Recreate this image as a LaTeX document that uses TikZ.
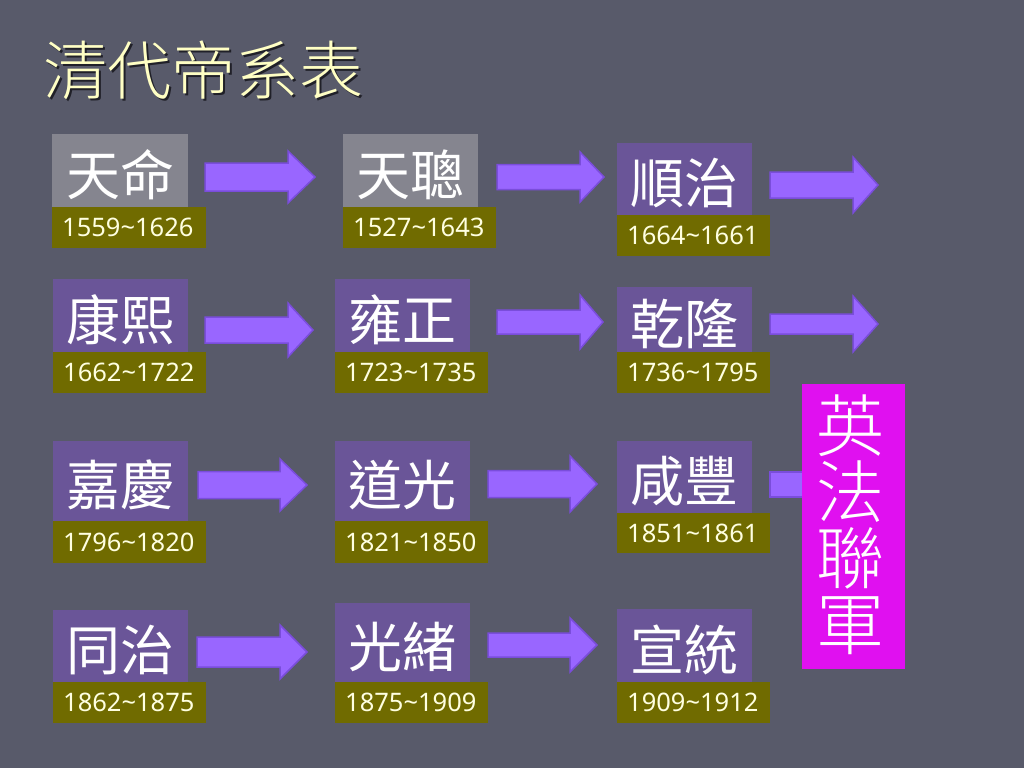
\documentclass[tikz,border=0pt]{standalone}
\usepackage{fontspec}
\usetikzlibrary{calc}
\newfontfamily\cjk{Noto Sans CJK TC}
\IfFontExistsTF{Noto Sans CJK TC Light}{\newfontfamily\cjkl{Noto Sans CJK TC Light}}{\newfontfamily\cjkl{Noto Sans CJK TC}}
\newfontfamily\numf{Noto Sans}
\definecolor{bgcol}{HTML}{585A6A}
\definecolor{namegrey}{HTML}{85858F}
\definecolor{namepurple}{HTML}{6A5598}
\definecolor{olivecol}{HTML}{706B00}
\definecolor{datecol}{HTML}{FFFFE0}
\definecolor{arrowfill}{HTML}{9966FF}
\definecolor{arrowedge}{HTML}{7A4DDB}
\definecolor{warbox}{HTML}{E010F0}
\definecolor{titlecol}{HTML}{FFFFC4}
\definecolor{titleshadow}{HTML}{202028}
\tikzset{
  namebox/.style={fill=namepurple, inner sep=0pt, anchor=north west},
  greybox/.style={fill=namegrey, inner sep=0pt, anchor=north west},
  datebox/.style={fill=olivecol, inner sep=0pt, anchor=north west},
  nametext/.style={font=\cjk\fontsize{54}{54}\selectfont, text=white, inner sep=0pt},
  datetext/.style={font=\numf\fontsize{25.5}{26}\selectfont, text=datecol, inner sep=0pt, anchor=west},
  blockarrow/.style={fill=arrowfill, draw=arrowedge, line width=1.5pt, line join=miter},
  titletext/.style={font=\cjkl\fontsize{64}{64}\selectfont, inner sep=0pt, anchor=west},
  warnode/.style={fill=warbox, inner sep=0pt, anchor=north west},
  wartext/.style={font=\cjkl\fontsize{68}{66}\selectfont, text=white, inner sep=0pt, align=center},
}
% #1 id, #2 box style, #3 x-left, #4 y-top, #5 y-split, #6 y-bottom, #7 name right x, #8 name, #9 date
\newcommand\emperor[9]{%
  \pgfmathsetmacro\bw{#7-#3}\pgfmathsetmacro\bh{#5-#4}%
  \pgfmathsetmacro\dw{#7+17.5-#3}\pgfmathsetmacro\dh{#6-#5}%
  \node[#2, minimum width=\bw pt, minimum height=\bh pt] (#1-box) at (#3,#4) {};
  \node[nametext] (#1-name) at ($(#1-box.center)+(0,4)$) {#8};
  \node[datebox, minimum width=\dw pt, minimum height=\dh pt] (#1-date) at (#3,#5) {};
  \node[datetext] (#1-year) at ($(#1-date.west)+(10,0)$) {#9};
}
% #1 x0, #2 x head base, #3 x tip, #4 y centre, #5 half body, #6 half head
\newcommand\barrow[6]{%
  \draw[blockarrow] (#1,#4-#5) -- (#2,#4-#5) -- (#2,#4-#6) -- (#3,#4) -- (#2,#4+#6) -- (#2,#4+#5) -- (#1,#4+#5) -- cycle;
}
\begin{document}
\begin{tikzpicture}[x=1pt,y=-1pt]
\fill[bgcol] (0,0) rectangle (1024,768);
\useasboundingbox (0,0) rectangle (1024,768);

% title
\node[titletext, text=titleshadow] (titleshadow) at (45,72) {清代帝系表};
\node[titletext, text=titlecol] (title) at (43,70) {清代帝系表};

% arrows (drawn first, boxes overlap them)
\barrow{205}{288}{315}{177}{14}{26}
\barrow{497}{580}{604}{177}{12.5}{25}
\barrow{770}{853}{878}{185}{13}{28}
\barrow{205}{288}{313}{330}{13}{27}
\barrow{497}{580}{603}{322}{12}{27}
\barrow{770}{853}{878}{324}{10}{28}
\barrow{198}{280}{307}{485}{13.5}{26}
\barrow{488}{570}{597}{484}{13.5}{28}
\barrow{197}{280}{307}{652}{15}{27}
\barrow{488}{570}{597}{645}{12}{27}
\draw[blockarrow] (770,472) rectangle (810,497);

% row 1
\emperor{tianming}{greybox}{52}{134}{207}{248}{188}{天命}{1559\char"007E 1626}
\emperor{tiancong}{greybox}{343}{134}{207}{248}{478}{天聰}{1527\char"007E 1643}
\emperor{shunzhi}{namebox}{617}{143}{215}{256}{752}{順治}{1664\char"007E 1661}
% row 2
\emperor{kangxi}{namebox}{53}{279}{352}{393}{188}{康熙}{1662\char"007E 1722}
\emperor{yongzheng}{namebox}{335}{279}{352}{393}{470}{雍正}{1723\char"007E 1735}
\emperor{qianlong}{namebox}{617}{287}{352}{393}{752}{乾隆}{1736\char"007E 1795}
% row 3
\emperor{jiaqing}{namebox}{53}{441}{521}{563}{188}{嘉慶}{1796\char"007E 1820}
\emperor{daoguang}{namebox}{335}{441}{521}{563}{470}{道光}{1821\char"007E 1850}
\emperor{xianfeng}{namebox}{617}{441}{513}{553}{752}{咸豐}{1851\char"007E 1861}
% row 4
\emperor{tongzhi}{namebox}{53}{610}{682}{723}{188}{同治}{1862\char"007E 1875}
\emperor{guangxu}{namebox}{335}{603}{682}{723}{470}{光緒}{1875\char"007E 1909}
\emperor{xuantong}{namebox}{617}{609}{682}{723}{752}{宣統}{1909\char"007E 1912}

% Anglo-French war box
\node[warnode, minimum width=103pt, minimum height=285pt] (war) at (802,384) {};
\node[wartext] (wartxt) at ($(war.center)+(-3,-2)$) {英\\法\\聯\\軍};
\end{tikzpicture}
\end{document}
